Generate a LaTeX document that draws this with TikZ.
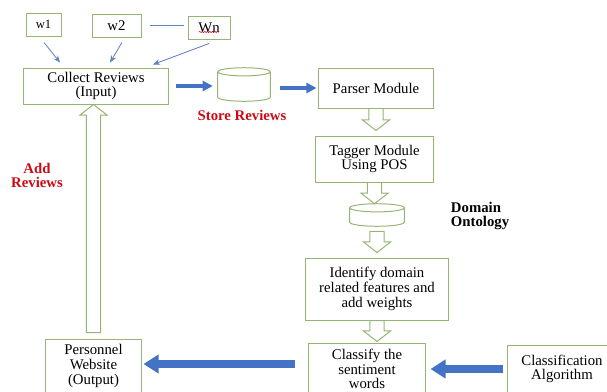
\documentclass[tikz,border=0pt]{standalone}
\usepackage{fontspec}
\setmainfont{Liberation Serif}
\usepackage{xcolor}
\usepackage{tikz}
\usetikzlibrary{arrows.meta,calc,decorations.pathmorphing}

\definecolor{boxgreen}{RGB}{150,180,115}
\definecolor{flowblue}{RGB}{68,114,196}
\definecolor{thinblue}{RGB}{95,130,195}
\definecolor{notered}{RGB}{205,10,20}

\newcommand{\hollowarrow}[2]{%
  \draw[hollow] let \p1=(#1), \p2=(#2), \n1={(\y1>\y2)*15-7.5} in
    (\x1-5pt,\y1) -- (\x1-5pt,{\y2+(\n1)*1pt}) -- (\x1-9.6pt,{\y2+(\n1)*1pt})
    -- (\x1,\y2) -- (\x1+9.6pt,{\y2+(\n1)*1pt}) -- (\x1+5pt,{\y2+(\n1)*1pt})
    -- (\x1+5pt,\y1) -- cycle;}
% drum outline drawn over a named (invisible) store node
\newcommand{\drum}[1]{%
  \draw[hollow] let \p1=(#1.north west), \p2=(#1.south east), \n1={(\x2-\x1)/2} in
    (\x1,\y1-2.9pt) -- (\x1,\y2+2.9pt)
    arc[start angle=180, end angle=360, x radius=\n1, y radius=2.9pt]
    -- (\x2,\y1-2.9pt)
    arc[start angle=0, end angle=360, x radius=\n1, y radius=2.9pt];}

\begin{document}
\begin{tikzpicture}[
  x=0.025cm, y=-0.025cm,
  every node/.style={font=\fontsize{10.5}{10.5}\selectfont},
  box/.style ={draw=boxgreen, line width=0.7pt, fill=white, rectangle,
               align=center, inner sep=0pt},
  store/.style={rectangle, inner sep=0pt},
  note/.style={font=\fontsize{10.5}{10.5}\selectfont\bfseries, align=center},
  hollow/.style={draw=boxgreen, line width=0.7pt, fill=white},
  thinarr/.style={-{Stealth[length=5pt,width=4pt]}, thinblue, line width=0.6pt},
  bigarr/.style ={-{Triangle[length=0.25cm,width=0.25cm]}, flowblue, line width=0.12cm},
  hugearr/.style={-{Triangle[length=0.375cm,width=0.45cm]}, flowblue, line width=0.2cm}
]
\useasboundingbox (0,0) rectangle (607,391);
\clip (0,0) rectangle (607,391);

%% ── review sources ───────────────────────────────────────────────────
\node[box, minimum width=0.875cm, minimum height=0.575cm,
      font=\fontsize{9}{9}\selectfont] (w1) at (43.5,24.5) {w1};
\node[box, minimum width=1.225cm, minimum height=0.575cm] (w2) at (116.5,25.5) {w2};
\node[box, minimum width=1.05cm,  minimum height=0.575cm] (wn) at (209,27.5)  {Wn};
\draw[notered, line width=0.4pt, decorate,
      decoration={snake, amplitude=0.4pt, segment length=1.8pt}]
    ($(wn.center)+(-10,4.5)$) -- ($(wn.center)+(10,4.5)$);

\draw[thinblue, line width=0.6pt, shorten <=0.2cm, shorten >=0.1cm]
    (w2.east) -- (w2.east -| wn.west);

%% ── input and storage ────────────────────────────────────────────────
\node[box, minimum width=3.6cm, minimum height=0.9cm] (collect) at (96,86)
    {Collect Reviews\\(Input)};
\node[store, minimum width=1.3cm, minimum height=0.825cm] (reviewdb) at (244,84.5) {};
\drum{reviewdb}
\node[note, text=notered] (storelbl) at (242,115) {Store Reviews};

\draw[thinarr] ($(w1.south)+(0.5,6)$) -- ($(collect.north)+(-36,-5)$);
\draw[thinarr] ($(w2.south)+(5.5,5)$) -- ($(collect.north)+(14,-5)$);
\draw[thinarr] ($(wn.south)+(0,4)$)   -- ($(collect.north)+(57,-3)$);

\draw[bigarr, shorten <=0.175cm, shorten >=0.125cm] (collect.east) -- (collect.east -| reviewdb.west);

%% ── processing column ────────────────────────────────────────────────
\node[box, minimum width=2.85cm,  minimum height=1.0cm]  (parser)   at (376,88)    {Parser Module};
\node[box, minimum width=2.925cm, minimum height=1.15cm] (tagger)   at (374.5,159) {Tagger Module\\Using POS};
\node[store, minimum width=1.35cm, minimum height=0.55cm] (ontology) at (377,215)  {};
\drum{ontology}
\node[note, align=left, anchor=west] (ontolbl) at (446,216) {Domain\\Ontology};
\node[box, minimum width=3.55cm,  minimum height=1.55cm] (identify) at (377,289)
    {Identify domain\\related features and\\add weights};
\node[box, minimum width=2.9cm,   minimum height=1.3cm]  (classify) at (367,369)
    {Classify the\\sentiment\\words};
\node[box, minimum width=2.7cm,   minimum height=1.2cm]  (algo)     at (562,369)
    {Classification\\Algorithm};

\draw[bigarr, shorten <=0.25cm, shorten >=0.05cm] (reviewdb.east |- parser.west) -- (parser.west);

\hollowarrow{parser.south}{$(tagger.north)+(0,-5)$}
\hollowarrow{tagger.south}{ontology.north}
\hollowarrow{$(ontology.south)+(0,5)$}{$(identify.north)+(0,-5)$}
\hollowarrow{identify.south}{$(classify.north)+(0,-1)$}

\draw[hugearr, shorten <=0.1cm, shorten >=0.125cm] (algo.west) -- (algo.west -| classify.east);

%% ── output and feedback ──────────────────────────────────────────────
\node[box, minimum width=2.375cm, minimum height=1.35cm] (website) at (93.5,366)
    {Personnel\\Website\\(Output)};
\node[note, text=notered] (addlbl) at (37,175.5) {Add\\Reviews};

\draw[hugearr, shorten <=0.325cm, shorten >=0.05cm]
    ($(classify.west)+(0,-5)$) -- ($(classify.west -| website.east)+(0,-5)$);

\hollowarrow{$(website.north)+(0,-6)$}{collect.south}

\end{tikzpicture}
\end{document}
